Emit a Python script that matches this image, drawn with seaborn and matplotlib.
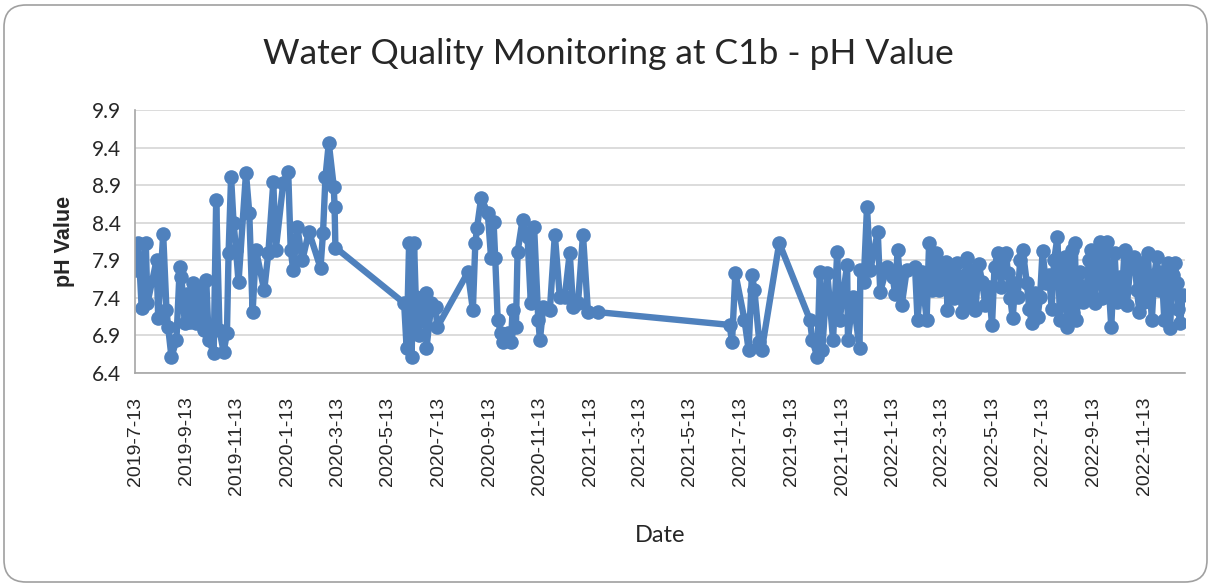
import matplotlib
matplotlib.use("Agg")
import matplotlib.pyplot as plt
import matplotlib.dates as mdates
from matplotlib.patches import FancyBboxPatch
from matplotlib.transforms import IdentityTransform
import seaborn as sns
import pandas as pd

# sampling dates and pH readings at C1b, in four stretches
dates_a = [
    "2019-07-13", "2019-07-17", "2019-07-21", "2019-07-26", "2019-07-28",
    "2019-08-08", "2019-08-10", "2019-08-16", "2019-08-20", "2019-08-22",
    "2019-08-26", "2019-09-01", "2019-09-05", "2019-09-07", "2019-09-11",
    "2019-09-14", "2019-09-17", "2019-09-21", "2019-09-25", "2019-09-28",
    "2019-10-01", "2019-10-04", "2019-10-07", "2019-10-10", "2019-10-16",
    "2019-10-19", "2019-10-23", "2019-10-28", "2019-11-01", "2019-11-03",
    "2019-11-06", "2019-11-09", "2019-11-12", "2019-11-15", "2019-11-24",
    "2019-11-28", "2019-12-02", "2019-12-06", "2019-12-16", "2019-12-21",
    "2019-12-27", "2019-12-30", "2020-01-08", "2020-01-14", "2020-01-17",
    "2020-01-20", "2020-01-25", "2020-01-31", "2020-02-08", "2020-02-22",
    "2020-02-25", "2020-02-28", "2020-03-03", "2020-03-09", "2020-03-10",
    "2020-03-11",
]
ph_a = [
    7.77, 8.13, 7.27, 8.13, 7.33,
    7.90, 7.13, 8.25, 7.24, 7.01,
    6.61, 6.84, 7.81, 7.68, 7.07,
    7.45, 7.08, 7.60, 7.07, 7.50,
    7.55, 6.97, 7.64, 6.84, 6.67,
    8.70, 6.97, 6.68, 6.93, 8.00,
    9.01, 8.40, 8.04, 7.61, 9.06,
    8.53, 7.21, 8.04, 7.50, 8.00,
    8.94, 8.04, 8.93, 9.08, 8.04,
    7.77, 8.34, 7.90, 8.28, 7.80,
    8.26, 9.01, 9.46, 8.88, 8.61,
    8.07,
]

dates_b = [
    "2020-06-02", "2020-06-05", "2020-06-08", "2020-06-11", "2020-06-14",
    "2020-06-16", "2020-06-20", "2020-06-24", "2020-06-28", "2020-06-29",
    "2020-07-05", "2020-07-10", "2020-07-12", "2020-08-18", "2020-08-24",
    "2020-08-27", "2020-08-29", "2020-09-03", "2020-09-11", "2020-09-15",
    "2020-09-18", "2020-09-20", "2020-09-23", "2020-09-27", "2020-09-30",
    "2020-10-06", "2020-10-09", "2020-10-11", "2020-10-15", "2020-10-17",
    "2020-10-23", "2020-10-29", "2020-11-02", "2020-11-06", "2020-11-11",
    "2020-11-13", "2020-11-17", "2020-11-25", "2020-12-01", "2020-12-07",
    "2020-12-13", "2020-12-19", "2020-12-23", "2020-12-29", "2021-01-04",
    "2021-01-10", "2021-01-22",
]
ph_b = [
    7.33, 6.73, 8.13, 6.61, 8.13,
    7.41, 6.90, 7.35, 7.46, 6.73,
    7.33, 7.28, 7.01, 7.74, 7.24,
    8.13, 8.33, 8.73, 8.53, 7.93,
    8.41, 7.93, 7.11, 6.93, 6.81,
    6.93, 6.81, 7.24, 7.01, 8.01,
    8.44, 8.21, 7.33, 8.34, 7.11,
    6.84, 7.28, 7.24, 8.24, 7.41,
    7.41, 8.00, 7.28, 7.33, 8.24,
    7.21, 7.21,
]

dates_c = [
    "2021-06-30", "2021-07-03", "2021-07-07", "2021-07-18", "2021-07-23",
    "2021-07-27", "2021-07-30", "2021-08-05", "2021-08-08", "2021-08-29",
    "2021-10-05", "2021-10-08", "2021-10-14", "2021-10-17", "2021-10-20",
    "2021-10-26", "2021-11-02", "2021-11-07", "2021-11-10", "2021-11-19",
    "2021-11-20", "2021-11-26", "2021-12-04", "2021-12-05", "2021-12-09",
    "2021-12-13", "2021-12-17", "2021-12-26", "2021-12-29", "2022-01-06",
    "2022-01-13", "2022-01-16", "2022-01-19", "2022-01-24", "2022-01-30",
    "2022-02-09", "2022-02-12", "2022-02-17", "2022-02-23", "2022-02-26",
    "2022-03-02", "2022-03-06", "2022-03-10",
]
ph_c = [
    7.04, 6.81, 7.73, 7.11, 6.71,
    7.71, 7.50, 6.81, 6.71, 8.13,
    7.11, 6.84, 6.61, 7.75, 6.71,
    7.73, 6.84, 8.01, 7.11, 7.84,
    6.84, 7.41, 6.73, 7.77, 7.61,
    8.61, 7.77, 8.28, 7.48, 7.81,
    7.68, 7.45, 8.04, 7.31, 7.77,
    7.81, 7.11, 7.75, 7.11, 8.13,
    7.50, 8.00, 7.50,
]

dates_d = [
    "2022-03-12", "2022-03-15", "2022-03-19", "2022-03-20", "2022-03-25",
    "2022-03-28", "2022-04-01", "2022-04-04", "2022-04-07", "2022-04-10",
    "2022-04-13", "2022-04-16", "2022-04-20", "2022-04-23", "2022-04-27",
    "2022-05-01", "2022-05-05", "2022-05-09", "2022-05-13", "2022-05-16",
    "2022-05-20", "2022-05-24", "2022-05-27", "2022-05-30", "2022-06-01",
    "2022-06-04", "2022-06-07", "2022-06-10", "2022-06-13", "2022-06-16",
    "2022-06-19", "2022-06-24", "2022-06-27", "2022-06-30", "2022-07-04",
    "2022-07-07", "2022-07-10", "2022-07-13", "2022-07-17", "2022-07-21",
    "2022-07-24", "2022-07-27", "2022-07-31", "2022-08-03", "2022-08-06",
    "2022-08-09", "2022-08-12", "2022-08-15", "2022-08-17", "2022-08-19",
    "2022-08-21", "2022-08-23", "2022-08-27", "2022-08-31", "2022-09-04",
    "2022-09-07", "2022-09-10", "2022-09-12", "2022-09-14", "2022-09-17",
    "2022-09-20", "2022-09-23", "2022-09-26", "2022-09-29", "2022-10-01",
    "2022-10-04", "2022-10-08", "2022-10-11", "2022-10-14", "2022-10-17",
    "2022-10-20", "2022-10-23", "2022-10-27", "2022-11-01", "2022-11-04",
    "2022-11-07", "2022-11-10", "2022-11-13", "2022-11-17", "2022-11-22",
    "2022-11-25", "2022-11-28", "2022-12-01", "2022-12-04", "2022-12-07",
    "2022-12-11", "2022-12-14", "2022-12-17", "2022-12-20", "2022-12-22",
    "2022-12-24", "2022-12-26", "2022-12-30",
]
ph_d = [
    7.55, 7.85, 7.88, 7.24, 7.80,
    7.40, 7.86, 7.50, 7.21, 7.70,
    7.93, 7.35, 7.77, 7.24, 7.85,
    7.61, 7.30, 7.55, 7.04, 7.81,
    8.00, 7.55, 7.95, 8.00, 7.73,
    7.40, 7.13, 7.60, 7.41, 7.90,
    8.04, 7.60, 7.25, 7.07, 7.46,
    7.15, 7.41, 8.02, 7.60, 7.71,
    7.25, 7.90, 8.21, 7.11, 7.60,
    7.95, 7.01, 7.65, 8.04, 7.20,
    8.13, 7.11, 7.75, 7.35, 7.50,
    7.90, 8.04, 7.40, 7.33, 7.95,
    8.14, 7.40, 7.81, 8.14, 7.55,
    7.01, 8.00, 7.35, 7.68, 7.45,
    8.04, 7.31, 7.85, 7.94, 7.50,
    7.21, 7.86, 7.35, 8.00, 7.11,
    7.70, 7.94, 7.50, 7.75, 7.11,
    7.86, 7.00, 7.70, 7.86, 7.60,
    7.25, 7.07, 7.44,
]

y_ticks = [6.4, 6.9, 7.4, 7.9, 8.4, 8.9, 9.4, 9.9]

dates = dates_a + dates_b + dates_c + dates_d
ph = ph_a + ph_b + ph_c + ph_d
assert len(dates) == len(ph)
df = pd.DataFrame({"Date": pd.to_datetime(dates), "pH Value": ph})

sns.set_style("white")
plt.rcParams["font.family"] = ["Lato", "DejaVu Sans"]

fig = plt.figure(figsize=(12.11, 5.86), dpi=100)
ax = fig.add_axes([0.1115, 0.3635, 0.867, 0.4488])

sns.lineplot(data=df, x="Date", y="pH Value", ax=ax, estimator=None,
             color="#4F81BD", linewidth=4.6, marker="o", markersize=10.5,
             markeredgewidth=0)

ax.set_ylim(6.4, 9.9)
ax.set_yticks(y_ticks)
ax.set_yticklabels([f"{v:.1f}" for v in y_ticks], fontsize=15)
ax.yaxis.grid(True, color="#D9D9D9", linewidth=1.3)
ax.set_axisbelow(True)

ax.set_xlim(pd.Timestamp("2019-07-13"), pd.Timestamp("2023-01-01"))
ax.xaxis.set_major_locator(mdates.MonthLocator(bymonth=[1, 3, 5, 7, 9, 11], bymonthday=13))
ax.xaxis.set_major_formatter(plt.FuncFormatter(
    lambda v, pos: (lambda d: f"{d.year}-{d.month}-{d.day}")(mdates.num2date(v))))
for lab in ax.get_xticklabels():
    lab.set_rotation(90)
ax.tick_params(axis="x", direction="out", length=6, color="#A6A6A6", width=1.2,
               labelsize=14, labelfontfamily="Liberation Sans", pad=11)
ax.tick_params(axis="y", length=0, pad=10)

for s in ["top", "right"]:
    ax.spines[s].set_visible(False)
for s in ["left", "bottom"]:
    ax.spines[s].set_color("#A6A6A6")
    ax.spines[s].set_linewidth(1.2)

ax.set_xlabel("")
ax.set_ylabel("pH Value", fontsize=15.5, family="Liberation Sans",
              fontweight="bold", labelpad=12)
fig.text(0.545, 0.087, "Date", ha="center", va="center", fontsize=17)
fig.text(0.502, 0.907, "Water Quality Monitoring at C1b - pH Value",
         ha="center", va="center", fontsize=25.5)

border = FancyBboxPatch((4, 4), 1203, 577, boxstyle="round,pad=0,rounding_size=22",
                        transform=IdentityTransform(), facecolor="none",
                        edgecolor="#A0A0A0", linewidth=1.2)
fig.patches.append(border)

fig.savefig("out.png", dpi=100)
